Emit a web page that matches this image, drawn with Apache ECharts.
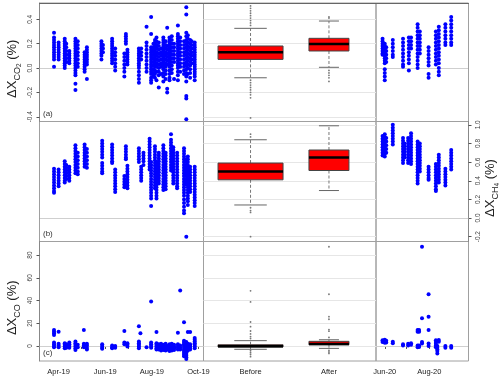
<!DOCTYPE html>
<html>
<head>
<meta charset="utf-8">
<script src="https://cdn.jsdelivr.net/npm/echarts@6/dist/echarts.min.js"></script>
<style>html,body{margin:0;padding:0;background:#fff}#chart{width:500px;height:379px}</style>
</head>
<body>
<div id="chart"></div>
<script>
// ---- data ----
// CO2 (row a), 2019 campaign: one entry per measurement day, list of values (%)
const co2Days19 = ['2019-03-26','2019-04-01','2019-04-09','2019-04-11','2019-04-15','2019-04-23','2019-04-26','2019-05-05','2019-05-08','2019-05-27','2019-05-29','2019-06-10','2019-06-14','2019-06-26','2019-06-28','2019-06-30','2019-07-15','2019-07-18','2019-07-25','2019-07-31','2019-08-03','2019-08-05','2019-08-07','2019-08-10','2019-08-13','2019-08-16','2019-08-19','2019-08-21','2019-08-24','2019-08-27','2019-08-30','2019-09-04','2019-09-07','2019-09-12','2019-09-15','2019-09-17','2019-09-20','2019-09-22','2019-09-26'];
const co2Vals19 = [
  [0.29,0.25,0.23,0.21,0.19,0.17,0.15,0.13,0.11,0.09,0.07,0.01],
  [0.21,0.19,0.17,0.15,0.13,0.11,0.09,0.07],
  [0.24,0.22,0.2,0.18,0.16,0.14,0.12,0.1,0.08,0.06,0.04,0.02,0.0],
  [0.2,0.17,0.14,0.11,0.08,0.05],
  [0.14,0.12,0.1,0.08,0.06,0.04],
  [0.24,0.22,0.2,0.18,0.16,0.14,0.12,0.1,0.08,0.06,0.04,0.02,0.0,-0.02,-0.04,-0.06,-0.13,-0.18],
  [0.22,0.19,0.16,0.13,0.1,0.07,0.04,0.01],
  [0.13,0.11,0.09,0.07,0.05,0.03,0.01,-0.01,-0.03],
  [0.17,0.15,0.13,0.11,0.09,0.07,0.05,0.03,-0.09],
  [0.22,0.2,0.18,0.16,0.14,0.12,0.1,0.07],
  [0.19,0.16,0.13],
  [0.24,0.22,0.2,0.18,0.16,0.14,0.12,0.1,0.08,0.06,0.04],
  [0.16,0.13,0.1,0.07,0.04,0.01,-0.02],
  [0.12,0.09,0.06,0.03,0.0,-0.03,-0.07],
  [0.28,0.26,0.24,0.22,0.2],
  [0.15,0.13,0.11,0.09,0.07,0.05,0.03],
  [0.16,0.14,0.12,0.1,0.08,0.06,0.04,0.02,0.0,-0.03,-0.06,-0.09,-0.12],
  [0.16,0.13,0.1,0.07],
  [0.34,0.21,0.18,0.15,0.12,0.09,0.06,0.03,0.0,-0.03],
  [0.42,0.28,0.17,0.15,0.13,0.11,0.09,0.07,0.05,0.03,0.01,-0.01,-0.03,-0.05,-0.08,-0.1,-0.12],
  [0.2,0.17,0.14,0.11,0.08,0.05,0.02,-0.01,-0.04,-0.07],
  [0.23,0.21,0.19,0.17,0.15,0.13,0.11,0.09,0.07,0.05,0.03,0.01,-0.02,-0.05,-0.08],
  [0.25,0.22,0.19,0.16,0.13,0.1,0.07,0.04,0.01,-0.03,-0.1],
  [0.21,0.18,0.15,0.12,0.09,0.06,0.03,0.0,-0.03,-0.06,-0.16],
  [0.16,0.13,0.1,0.07,0.04,0.01,-0.05],
  [0.25,0.23,0.21,0.19,0.17,0.15,0.13,0.11,0.09,0.07,0.05,0.03,0.01,-0.01,-0.04,-0.07,-0.11],
  [0.22,0.19,0.16,0.13,0.1,0.07,0.04,0.01,-0.02,-0.05,-0.09],
  [0.33,0.18,0.15,0.12,0.09,0.06,0.03,-0.17,-0.2],
  [0.25,0.23,0.21,0.19,0.17,0.15,0.13,0.11,0.09,0.07,0.05,0.03,0.01,-0.02,-0.05,-0.08,-0.1],
  [0.26,0.23,0.2,0.17,0.14,0.11,0.08,0.05,0.02,-0.01,-0.04],
  [0.2,0.17,0.14,0.11,0.08,0.05,-0.09],
  [0.35,0.28,0.26,0.24,0.22,0.2,0.18,0.16,0.14,0.12,0.1,0.08,0.06,0.04,0.02,0.0,-0.03,-0.06,-0.1],
  [0.25,0.22,0.19,0.16,0.13,0.1,0.07,0.04,0.01,-0.03],
  [0.22,0.19,0.16,0.13,0.1,0.07,0.04,0.01,-0.02,-0.05],
  [0.5,0.44,0.29,0.26,0.23,0.2,0.17,0.14,0.11,0.08,0.05,0.02,-0.01,-0.04,-0.07,-0.11,-0.23,-0.25,-0.42],
  [0.27,0.24,0.21,0.18,0.15,0.12,0.09,0.06,0.03,0.0,-0.05],
  [0.23,0.2,0.17,0.14,0.11,0.08,0.05,0.02,-0.01,-0.04,-0.08],
  [0.22,0.19,0.16,0.13,0.1,0.07,0.04],
  [0.21,0.19,0.17,0.15,0.13,0.11,0.09,0.07,0.05,0.03,0.01,-0.01,-0.03,-0.05,-0.07,-0.1]
];
// CO2, 2020 campaign
const co2Days20 = ['2020-05-29','2020-06-01','2020-06-03','2020-06-12','2020-06-26','2020-07-04','2020-07-07','2020-07-16','2020-07-19','2020-07-31','2020-08-10','2020-08-14','2020-08-23','2020-08-31'];
const co2Vals20 = [
  [0.24,0.22,0.2,0.18,0.16,0.14,0.12,0.11],
  [0.2,0.18,0.16,0.14,0.12,0.1,0.08,0.06,0.04,-0.01,-0.04,-0.07,-0.1],
  [0.17,0.14,0.11,0.08,0.05],
  [0.23,0.2,0.17,0.14,0.11,0.09],
  [0.24,0.21,0.18,0.15,0.12,0.09,0.06,0.03,0.01],
  [0.25,0.22,0.19,0.16,0.13,0.1,0.07,0.04,-0.02],
  [0.25,0.22,0.19,0.16],
  [0.36,0.33,0.3,0.27,0.24,0.21,0.18,0.15,0.12,0.09,0.06,0.03,0.0],
  [0.3,0.27,0.24,0.21,0.18,0.15,0.12],
  [0.17,0.14,0.11,0.08,0.05,0.02,-0.05,-0.08],
  [0.3,0.27,0.24,0.21,0.18,0.15,0.12,0.09,0.06,0.03],
  [0.34,0.31,0.28,0.25,0.22,0.19,0.16,0.13,0.1,0.07,0.04,0.0,-0.03,-0.06],
  [0.36,0.33,0.3,0.27,0.24,0.21,0.19],
  [0.42,0.39,0.36,0.33,0.3,0.27,0.24,0.21,0.19]
];

// CH4 (row b)
const ch4Days19 = ['2019-03-26','2019-04-01','2019-04-09','2019-04-11','2019-04-15','2019-04-23','2019-04-26','2019-05-05','2019-05-08','2019-05-28','2019-06-10','2019-06-14','2019-06-26','2019-06-28','2019-06-30','2019-07-15','2019-07-18','2019-07-21','2019-07-29','2019-07-31','2019-08-05','2019-08-07','2019-08-10','2019-08-16','2019-08-19','2019-08-26','2019-08-29','2019-09-03','2019-09-12','2019-09-15','2019-09-17','2019-09-20','2019-09-26'];
const ch4Vals19 = [
  [0.53,0.5,0.47,0.44,0.41,0.38,0.35,0.32,0.29,0.27],
  [0.52,0.49,0.46,0.43,0.4,0.37,0.34],
  [0.61,0.58,0.55,0.52,0.49,0.46,0.43,0.4,0.38],
  [0.57,0.54,0.51,0.48,0.45,0.42],
  [0.55,0.52,0.49,0.46,0.43,0.4],
  [0.78,0.75,0.72,0.69,0.66,0.63,0.6,0.57,0.54,0.51,0.48],
  [0.7,0.66,0.62,0.58,0.54,0.5,0.47],
  [0.79,0.76,0.73,0.7,0.67,0.64,0.61,0.58,0.55],
  [0.74,0.7,0.66,0.62,0.58,0.54],
  [0.83,0.8,0.77,0.74,0.71,0.68,0.65,0.59,0.56,0.53,0.5,0.48],
  [0.79,0.76,0.73,0.7,0.67,0.64,0.61,0.59],
  [0.52,0.49,0.46,0.43,0.4,0.37,0.34,0.31,0.28],
  [0.45,0.42,0.39,0.36,0.33],
  [0.77,0.74,0.71,0.68,0.65,0.63],
  [0.56,0.53,0.5,0.47,0.44,0.41,0.38,0.35,0.32],
  [0.75,0.72,0.69,0.66,0.63,0.6],
  [0.55,0.52,0.49,0.46,0.43,0.4],
  [0.7,0.67,0.64,0.61,0.57],
  [0.85,0.82,0.79,0.76,0.73,0.7,0.67,0.64,0.61,0.58,0.55,0.52],
  [0.6,0.57,0.54,0.51,0.48,0.45,0.42,0.39,0.36,0.33,0.3,0.27,0.24,0.21,0.13],
  [0.77,0.74,0.71,0.68,0.65,0.62,0.59,0.56,0.53,0.5,0.47,0.44,0.41,0.38,0.35,0.32],
  [0.6,0.57,0.54,0.51,0.48,0.45,0.42,0.39,0.36,0.33,0.3,0.27,0.24,0.21],
  [0.7,0.67,0.64,0.61,0.58,0.55,0.52,0.49,0.46,0.43,0.4,0.37],
  [0.78,0.75,0.72,0.69,0.66,0.63,0.6,0.57,0.54,0.51,0.48,0.45,0.42,0.39,0.36,0.33,0.3],
  [0.7,0.67,0.64,0.61,0.58,0.55,0.52,0.49,0.46,0.43,0.4,0.37,0.34,0.31],
  [0.9,0.84,0.81,0.78,0.75,0.72,0.69,0.66,0.63,0.6,0.57,0.54,0.51],
  [0.76,0.73,0.7,0.67,0.64,0.61,0.58,0.55,0.52,0.49,0.46,0.43,0.4,0.37],
  [0.7,0.67,0.64,0.61,0.58,0.55,0.52,0.49,0.46,0.43,0.4,0.37,0.34,0.32],
  [0.75,0.72,0.69,0.66,0.63,0.6,0.57,0.54,0.51,0.48,0.45,0.42,0.39,0.36,0.33,0.3,0.27,0.24,0.2,0.16,0.12,0.08,0.05],
  [0.63,0.6,0.57,0.54,0.51,0.48,0.45,0.42,0.39,0.36,-0.2],
  [0.66,0.63,0.6,0.57,0.54,0.51,0.48,0.45,0.42,0.39,0.36,0.33,0.3,0.27,0.24,0.21,0.18,0.14],
  [0.55,0.52,0.49,0.46,0.43,0.4,0.37,0.34,0.31,0.28],
  [0.55,0.52,0.49,0.46,0.43,0.4,0.37,0.34,0.31,0.28,0.25,0.22,0.19,0.16,0.13]
];
const ch4Days20 = ['2020-05-29','2020-06-01','2020-06-03','2020-06-12','2020-06-26','2020-06-28','2020-07-03','2020-07-07','2020-07-16','2020-07-19','2020-07-31','2020-08-10','2020-08-14','2020-08-23','2020-08-31'];
const ch4Vals20 = [
  [0.88,0.85,0.82,0.79,0.76,0.73,0.7,0.67],
  [0.9,0.87,0.84,0.81,0.78,0.75,0.72,0.69,0.66],
  [0.86,0.82,0.78,0.74,0.7],
  [1.0,0.97,0.94,0.91,0.88,0.85,0.82,0.79],
  [0.86,0.83,0.8,0.77,0.74,0.71,0.68,0.65,0.62,0.59],
  [0.8,0.77,0.74,0.71,0.68,0.65],
  [0.86,0.83,0.8,0.77,0.74,0.71,0.68,0.65,0.62,0.59],
  [0.91,0.88,0.85,0.82,0.79,0.76,0.73,0.7,0.67,0.64,0.61,0.58],
  [0.82,0.79,0.76,0.73,0.7,0.67,0.64,0.61,0.58,0.55,0.52,0.49,0.46,0.43,0.4,0.37],
  [0.8,0.77,0.74,0.71,0.68,0.65,0.62,0.59,0.56,0.53,0.5],
  [0.55,0.52,0.49,0.46,0.43,0.41],
  [0.58,0.55,0.52,0.49,0.46,0.43,0.4,0.37,0.34,0.31,0.29],
  [0.68,0.65,0.62,0.59,0.56,0.53,0.5,0.47,0.44,0.41,0.38],
  [0.53,0.5,0.47,0.44,0.41,0.38,0.35],
  [0.73,0.7,0.67,0.64,0.61,0.58,0.55,0.52]
];

// CO (row c)
const coDays19 = ['2019-03-26','2019-04-01','2019-04-09','2019-04-11','2019-04-15','2019-04-23','2019-04-26','2019-05-04','2019-05-08','2019-05-28','2019-06-10','2019-06-14','2019-06-26','2019-06-30','2019-07-15','2019-07-17','2019-07-25','2019-07-31','2019-08-07','2019-08-10','2019-08-13','2019-08-16','2019-08-19','2019-08-21','2019-08-24','2019-08-27','2019-08-30','2019-09-04','2019-09-07','2019-09-12','2019-09-15','2019-09-17','2019-09-20','2019-09-26'];
const coVals19 = [
  [14,12.6,11.2,9.7,3,1.5,0,-1.2],
  [12.6,2,0.5,-1],
  [2.5,1,-0.5,-2],
  [1.5,0,-1.5],
  [3,1.5,0,-1.5],
  [4,2.5,1,-0.5,-2,-3.5],
  [1,-1],
  [14,2,0.5,-1],
  [2,0.5,-1.5,-3],
  [1.5,0,-1.5,-2.5],
  [0.5,-1,-2],
  [0,-1.5],
  [13.2,3,1.5],
  [2.5,1,-0.5],
  [17.3,4,2.5,1,-0.5,-2],
  [11.2],
  [-1.2],
  [39.1,3,1.5,0,-1.5],
  [12.3,2.5,1,-0.5,-2,-3],
  [1.5,0,-1.5,-3],
  [2,0.5,-1,-2.5,-4],
  [1,-0.5,-2,-3.5],
  [2,0.5,-1,-2.5,-4],
  [0,-1.5,-3],
  [1.5,0,-1.5,-3,-4.5],
  [2,0.5,-1,-2.5,-4],
  [1,-0.5,-2,-3.5],
  [11.7,1.5,0,-1.5,-3],
  [48.7,0.5,-1.5,-3],
  [20.8,4.5,3,1.5,0,-1.5,-3,-4.5,-6,-7.5,-9],
  [3.5,2,0.5,-1,-2.5,-4,-5.5,-7,-8.5,-10,-11.5],
  [12.3,2,0.5,-1,-2.5,-4],
  [12.3,1.5,0,-1.5,-3],
  [7,5.5,4,2.5,1,-0.5,-2]
];
const coDays20 = ['2020-05-29','2020-06-01','2020-06-03','2020-06-12','2020-06-26','2020-07-03','2020-07-07','2020-07-16','2020-07-18','2020-07-22','2020-07-31','2020-08-10','2020-08-12','2020-08-14','2020-08-23','2020-08-31'];
const coVals20 = [
  [5,3.5],
  [5.5,4,2.8],
  [4.5,3],
  [3.8,2.5],
  [1.5,0.5],
  [2,0.5],
  [2.5,1.2],
  [14.1,12.6,0.5,-1],
  [14,12.6,0.5,-0.8],
  [87.3,24.4,3.5,2.2],
  [45.5,25.8,14.1,2.2,0],
  [5,3.5,2,0.5,-1],
  [0,-1.5,-3,-4.5,-6.5],
  [5.3,3.8],
  [0,-1.5],
  [0,-1.5]
];

// box plots: [lower whisker, Q1, median, Q3, upper whisker] for Before / After
const boxCats = ['Before', 'After'];
const co2Box = [[-0.08, 0.071, 0.129, 0.181, 0.326], [0.006, 0.14, 0.197, 0.244, 0.386]];
const co2Out = [[0.35,0.37,0.39,0.41,0.43,0.45,0.47,0.49,0.51,-0.1,-0.12,-0.14,-0.16,-0.18,-0.2,-0.22,-0.245,-0.41], [0.41,0.42,-0.02,-0.04,-0.06,-0.08,-0.11]];
const ch4Box = [[0.14, 0.41, 0.5, 0.59, 0.84], [0.295, 0.51, 0.65, 0.73, 0.99]];
const ch4Out = [[0.87,0.9,0.11,0.08,0.06,-0.2], []];
const coBox = [[-2.9, -0.9, -0.3, 1.1, 4.7], [-2.1, 1.1, 1.8, 4.1, 5.5]];
const coOut = [[48.5,38.8,21.1,17,13.2,10.6,8.2,6.5,-4.2,-5.9,-7.5,-9.4], [87.3,45.5,25.8,23.5,14.4,13,7.5,-3.8,-5.3,-6.5]];

// axis ticks
const co2Ticks = [-0.4, -0.2, 0, 0.2, 0.4];
const ch4Ticks = [-0.2, 0, 0.2, 0.4, 0.6, 0.8, 1.0];
const coTicks = [0, 20, 40, 60, 80];
const monthTicks19 = ['2019-04-01','2019-05-01','2019-06-01','2019-07-01','2019-08-01','2019-09-01','2019-10-01'];
const monthLabels19 = ['2019-04-01','2019-06-01','2019-08-01','2019-10-01'];
const monthTicks20 = ['2020-06-01','2020-07-01','2020-08-01'];
const monthLabels20 = ['2020-06-01','2020-08-01'];

// ---- layout / style ----
const FONT = 'Liberation Sans, Arial, sans-serif';
const COLS = [{left: 39.5, width: 164}, {left: 203.5, width: 172.5}, {left: 376, width: 92.5}];
const ROWS = [{top: 3, height: 118.5}, {top: 121.5, height: 120}, {top: 241.5, height: 119.5}];
const BOX_W = [65, 40];
const T = s => Date.parse(s);
const xRange19 = [T('2019-03-07'), T('2019-10-07') + 12 * 3600e3];
const xRange20 = [T('2020-05-20'), T('2020-09-23') + 16 * 3600e3];
const MON = ['Jan','Feb','Mar','Apr','May','Jun','Jul','Aug','Sep','Oct','Nov','Dec'];
function fmtMonth(v) {
  const d = new Date(v);
  return MON[d.getUTCMonth()] + '-' + String(d.getUTCFullYear()).slice(2);
}
function pts(days, vals) {
  const out = [];
  days.forEach((d, i) => vals[i].forEach(v => out.push([T(d), v])));
  return out;
}
function outPts(out) {
  const res = [];
  out.forEach((arr, i) => arr.forEach(v => res.push([i + 1, v])));
  return res;
}
const RICH = {
  m: {fontSize: 13, fontFamily: FONT, color: '#222', lineHeight: 20},
  s: {fontSize: 9, fontFamily: FONT, color: '#222', verticalAlign: 'bottom', lineHeight: 12},
  t: {fontSize: 6.5, fontFamily: FONT, color: '#222', verticalAlign: 'bottom', lineHeight: 8}
};

const rows = [
  {min: -0.439, max: 0.534, ticks: co2Ticks, dec: 1, s19: pts(co2Days19, co2Vals19), s20: pts(co2Days20, co2Vals20),
   box: co2Box, out: co2Out, labelCol: 0, name: '{m|ΔX}{s|CO}{t|2}{m| (%)}', tag: '(a)'},
  {min: -0.252, max: 1.036, ticks: ch4Ticks, dec: 1, s19: pts(ch4Days19, ch4Vals19), s20: pts(ch4Days20, ch4Vals20),
   box: ch4Box, out: ch4Out, labelCol: 2, name: '{m|ΔX}{s|CH}{t|4}{m| (%)}', tag: '(b)'},
  {min: -13.2, max: 91.9, ticks: coTicks, dec: 0, s19: pts(coDays19, coVals19), s20: pts(coDays20, coVals20),
   box: coBox, out: coOut, labelCol: 0, name: '{m|ΔX}{s|CO}{m| (%)}', tag: '(c)'}
];

function renderBox(params, api) {
  const x = api.value(0);
  const w = BOX_W[params.dataIndex];
  const lo = api.coord([x, api.value(1)]);
  const q1 = api.coord([x, api.value(2)]);
  const md = api.coord([x, api.value(3)]);
  const q3 = api.coord([x, api.value(4)]);
  const hi = api.coord([x, api.value(5)]);
  const cx = lo[0], hw = w / 2, cw = w / 4;
  const whisk = {stroke: '#777', lineWidth: 1, lineDash: [3, 2]};
  const cap = {stroke: '#666', lineWidth: 1};
  return {
    type: 'group',
    children: [
      {type: 'line', shape: {x1: cx, y1: q3[1], x2: cx, y2: hi[1]}, style: whisk},
      {type: 'line', shape: {x1: cx, y1: q1[1], x2: cx, y2: lo[1]}, style: whisk},
      {type: 'line', shape: {x1: cx - cw, y1: hi[1], x2: cx + cw, y2: hi[1]}, style: cap},
      {type: 'line', shape: {x1: cx - cw, y1: lo[1], x2: cx + cw, y2: lo[1]}, style: cap},
      {type: 'rect', shape: {x: cx - hw, y: q3[1], width: w, height: q1[1] - q3[1]}, style: {fill: '#ff0000', stroke: '#444', lineWidth: 1}},
      {type: 'line', shape: {x1: cx - hw, y1: md[1], x2: cx + hw, y2: md[1]}, style: {stroke: '#000', lineWidth: 2.5}}
    ]
  };
}

const grid = [], xAxis = [], yAxis = [], series = [], graphic = [];
rows.forEach((row, r) => {
  const bottom = r === 2;
  COLS.forEach((col, c) => {
    const gi = r * 3 + c;
    grid.push({left: col.left, top: ROWS[r].top, width: col.width, height: ROWS[r].height,
      show: true, borderColor: '#a0a0a0', borderWidth: 1, outerBoundsMode: 'none'});

    let x;
    if (c === 1) {
      x = {type: 'value', min: 0.4, max: 2.6,
        axisTick: {show: false},
        axisLabel: {show: bottom, customValues: [1, 2], formatter: v => boxCats[Math.round(v) - 1],
          fontSize: 7.5, fontFamily: FONT, color: '#222', margin: 7}};
    } else {
      const rg = c === 0 ? xRange19 : xRange20;
      const tk = (c === 0 ? monthTicks19 : monthTicks20).map(T);
      const lb = (c === 0 ? monthLabels19 : monthLabels20).map(T);
      x = {type: 'value', min: rg[0], max: rg[1],
        axisTick: {show: bottom, customValues: tk, length: 3, lineStyle: {color: '#555'}},
        axisLabel: {show: bottom, customValues: lb, formatter: fmtMonth,
          fontSize: 7.5, fontFamily: FONT, color: '#222', margin: 7}};
    }
    x.gridIndex = gi;
    x.position = 'bottom';
    x.splitLine = {show: false};
    x.axisLine = {show: true, lineStyle: {color: '#666', width: 1}};
    xAxis.push(x);
    if (r === 0) {
      // darker top frame line
      xAxis.push({type: 'value', gridIndex: gi, position: 'top', min: x.min, max: x.max,
        axisLine: {show: true, lineStyle: {color: '#666'}}, axisTick: {show: false},
        axisLabel: {show: false}, splitLine: {show: false}});
    }

    const y = {type: 'value', gridIndex: gi, min: row.min, max: row.max,
      splitLine: {show: false}, axisLine: {show: false}, axisTick: {show: false}, axisLabel: {show: false}};
    if (c === row.labelCol) {
      y.position = c === 0 ? 'left' : 'right';
      y.axisLine = {show: true, lineStyle: {color: '#888'}};
      y.axisTick = {show: true, customValues: row.ticks, length: 3, lineStyle: {color: '#555'}};
      y.axisLabel = {show: true, customValues: row.ticks, rotate: 90, margin: 6,
        fontSize: 6.5, fontFamily: FONT, color: '#444', formatter: v => v.toFixed(row.dec)};
      y.name = row.name;
      y.nameLocation = 'middle';
      y.nameRotate = 90;
      y.nameGap = c === 0 ? 17 : 12;
      // extra padding at the text end shifts the title a little below the row middle
      y.nameTextStyle = {rich: RICH, padding: [0, 13, 0, 0]};
    }
    yAxis.push(y);

    const xi = xAxis.length - (r === 0 ? 2 : 1);
    if (c === 1) {
      series.push({type: 'custom', xAxisIndex: xi, yAxisIndex: gi, renderItem: renderBox, z: 3,
        data: row.box.map((b, i) => [i + 1].concat(b))});
      series.push({type: 'scatter', xAxisIndex: xi, yAxisIndex: gi, data: outPts(row.out),
        symbolSize: 1.8, itemStyle: {color: '#777', opacity: 1}, z: 2,
        markLine: {silent: true, symbol: 'none', z: 1, label: {show: false},
          lineStyle: {color: '#e6e6e6', type: 'solid', width: 1},
          data: row.ticks.map(t => ({yAxis: t}))}});
    } else {
      series.push({type: 'scatter', xAxisIndex: xi, yAxisIndex: gi, data: c === 0 ? row.s19 : row.s20,
        symbolSize: 4, itemStyle: {color: '#0000ff', opacity: 1}, z: 3,
        markLine: {silent: true, symbol: 'none', z: 1, label: {show: false},
          lineStyle: {color: '#cfcfcf', type: 'solid', width: 1},
          data: [{yAxis: 0}]}});
    }
  });
  graphic.push({type: 'text', left: 43, top: ROWS[r].top + ROWS[r].height - 12,
    style: {text: row.tag, font: '8px ' + FONT, fill: '#333'}});
});

const chart = echarts.init(document.getElementById('chart'), null, {renderer: 'canvas'});
chart.setOption({
  animation: false,
  backgroundColor: '#fff',
  grid: grid,
  xAxis: xAxis,
  yAxis: yAxis,
  series: series,
  graphic: graphic
});
</script>
</body>
</html>
